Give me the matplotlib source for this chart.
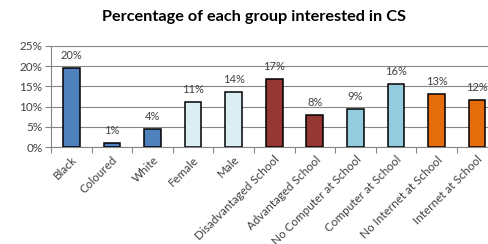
import matplotlib
matplotlib.use("Agg")
import matplotlib.pyplot as plt
from matplotlib.ticker import FixedLocator, NullFormatter

categories = ["Black", "Coloured", "White", "Female", "Male", "Disadvantaged School",
              "Advantaged School", "No Computer at School", "Computer at School",
              "No Internet at School", "Internet at School"]
values = [19.5, 1.1, 4.4, 11.1, 13.6, 16.8, 7.8, 9.5, 15.5, 13.0, 11.6]
labels = ["20%", "1%", "4%", "11%", "14%", "17%", "8%", "9%", "16%", "13%", "12%"]
colors = ["#4F81BD", "#4F81BD", "#4F81BD", "#DBEEF4", "#DBEEF4", "#953735", "#953735",
          "#93CDDD", "#93CDDD", "#E46C0A", "#E46C0A"]
yticks = [0, 5, 10, 15, 20, 25]
ytick_labels = ["0%", "5%", "10%", "15%", "20%", "25%"]

plt.rcParams['font.family'] = ['Lato', 'DejaVu Sans']

fig = plt.figure(figsize=(4.89, 2.44), dpi=100)
ax = fig.add_axes([0.1043, 0.3975, 0.913, 0.415])

x = list(range(len(categories)))
bars = ax.bar(x, values, width=0.41, color=colors, edgecolor="black", linewidth=1.1, zorder=3)
for xi, v, lab in zip(x, values, labels):
    ax.annotate(lab, (xi, v), xytext=(0, 5), textcoords="offset points",
                ha="center", va="bottom", fontsize=8, color="#404040")

ax.set_xlim(-0.5, len(categories) - 0.5)
ax.set_ylim(0, 25)
ax.set_yticks(yticks)
ax.set_yticklabels(ytick_labels, fontsize=8.5, color="#404040")
ax.yaxis.grid(True, color="#868686", linewidth=0.8, zorder=0)
ax.xaxis.set_major_locator(FixedLocator([i - 0.5 for i in range(len(categories) + 1)]))
ax.xaxis.set_major_formatter(NullFormatter())
ax.set_xticks(x, minor=True)
ax.set_xticklabels(categories, minor=True, rotation=45, ha="right", rotation_mode="anchor",
                   fontsize=8.4, color="#404040")
ax.tick_params(axis="x", which="minor", length=0, pad=5)
ax.tick_params(axis="x", which="major", length=4, color="#868686", direction="out")
ax.tick_params(axis="y", length=4, color="#868686", pad=2)
for s in ["top", "right"]:
    ax.spines[s].set_visible(False)
for s in ["left", "bottom"]:
    ax.spines[s].set_color("#868686")
    ax.spines[s].set_linewidth(0.8)

fig.text(0.52, 0.93, "Percentage of each group interested in CS", ha="center", va="center",
         fontsize=11.7, fontweight="bold", color="black")

fig.savefig("out.png", dpi=100)
